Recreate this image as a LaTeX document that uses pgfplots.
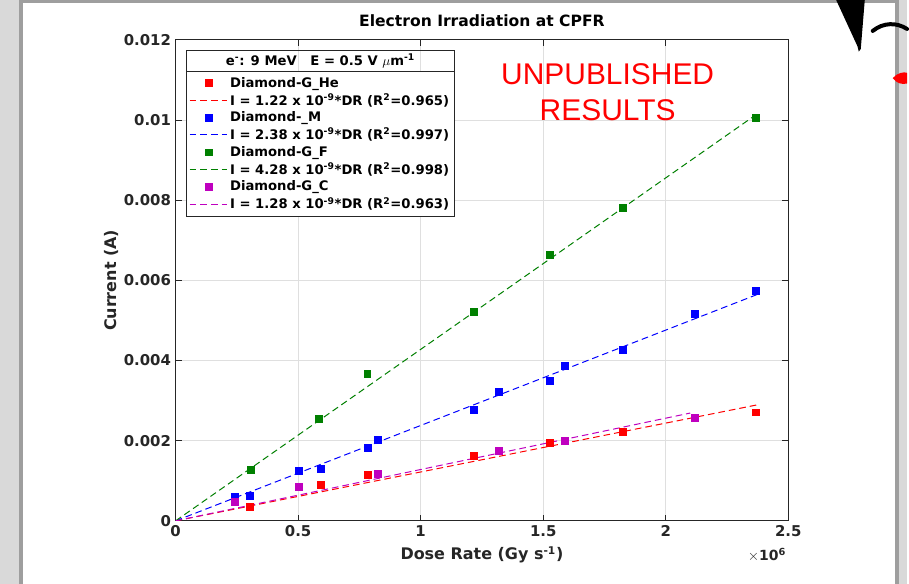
\documentclass[border=0pt]{standalone}
\usepackage{pgfplots}
\pgfplotsset{compat=1.18}
\usepackage{fontspec}
\setmainfont{DejaVu Sans}
\newfontfamily\redfont{Liberation Sans}
\usetikzlibrary{calc}
\definecolor{axgray}{HTML}{262626}
\definecolor{gridgray}{HTML}{DFDFDF}
\definecolor{mgreen}{HTML}{008000}
\definecolor{mmag}{HTML}{BF00BF}
\definecolor{framelight}{HTML}{D9D9D9}
\definecolor{framedark}{HTML}{9E9E9E}

\pgfplotstableread{
x y
0.303 0.00035
0.593 0.00090
0.785 0.00115
1.217 0.00162
1.526 0.00194
1.826 0.00223
2.366 0.00271
}\He
\pgfplotstableread{
x y
0.240 0.00059
0.303 0.00063
0.502 0.00125
0.593 0.00130
0.785 0.00183
0.825 0.00202
1.217 0.00277
1.317 0.00321
1.526 0.00349
1.587 0.00387
1.826 0.00426
2.117 0.00516
2.366 0.00575
}\M
\pgfplotstableread{
x y
0.305 0.00127
0.586 0.00254
0.782 0.00366
1.217 0.00522
1.526 0.00663
1.824 0.00782
2.366 0.01006
}\F
\pgfplotstableread{
x y
0.240 0.00047
0.502 0.00085
0.825 0.00118
1.317 0.00174
1.587 0.00199
2.117 0.00257
}\C

\begin{document}
\begin{tikzpicture}
% window frame
\fill[framelight] (0,0) rectangle (681.75pt,438.75pt);
\fill[framedark] (14.25pt,0) rectangle (675.75pt,438.75pt);
\fill[white] (17.25pt,0) rectangle (672.75pt,436.5pt);

\begin{axis}[
  at={(132pt,47.25pt)}, anchor=south west,
  scale only axis, width=460.5pt, height=361.5pt,
  xmin=0, xmax=2.5, ymin=0, ymax=0.012,
  xtick={0,0.5,1,1.5,2,2.5}, xticklabels={0,0.5,1,1.5,2,2.5},
  ytick={0,0.002,0.004,0.006,0.008,0.01,0.012},
  yticklabels={0,0.002,0.004,0.006,0.008,0.01,0.012},
  scaled x ticks=false, scaled y ticks=false,
  grid=major, major grid style={gridgray, line width=0.75pt},
  axis line style={axgray, line width=0.75pt},
  tick style={axgray, line width=0.75pt}, tick align=inside, major tick length=4.5pt,
  ticklabel style={font=\bfseries\fontsize{11.2}{13}\selectfont, text=axgray},
  title={Electron Irradiation at CPFR},
  title style={at={(axis description cs:0.5,1)}, anchor=base, yshift=4.1pt, font=\bfseries\fontsize{11.7}{13}\selectfont, text=black},
  xlabel={Dose Rate (Gy s\textsuperscript{-1})},
  ylabel={Current (A)},
  xlabel style={at={(axis description cs:0.5,0)}, anchor=center, yshift=-25.5pt, font=\bfseries\fontsize{12}{13}\selectfont, text=axgray},
  ylabel style={at={(axis description cs:-0.104,0.5)}, anchor=center, rotate=0, font=\bfseries\fontsize{12}{13}\selectfont, text=axgray},
  legend cell align=left,
  legend image code/.code={\draw[mark repeat=2,mark phase=2,#1] plot coordinates {(0pt,0pt)(14pt,0pt)(28pt,0pt)};},
  legend style={name=leg, at={(0.0174,0.9342)}, anchor=north west, draw=none, fill=white,
     font=\bfseries\fontsize{9.9}{11}\selectfont, text=black, row sep=-0.66pt, inner sep=2pt},
]
\addplot[only marks, mark=square*, mark size=2.6pt, red] table {\He};
\addlegendentry{Diamond-G\_He}
\addplot[red, dash pattern=on 5pt off 3pt, line width=0.75pt] coordinates {(0,0) (2.37,0.00289)};
\addlegendentry{I = 1.22 x 10\textsuperscript{-9}*DR (R\textsuperscript{2}=0.965)}
\addplot[only marks, mark=square*, mark size=2.6pt, blue] table {\M};
\addlegendentry{Diamond-\_M}
\addplot[blue, dash pattern=on 5pt off 3pt, line width=0.75pt] coordinates {(0,0) (2.37,0.00564)};
\addlegendentry{I = 2.38 x 10\textsuperscript{-9}*DR (R\textsuperscript{2}=0.997)}
\addplot[only marks, mark=square*, mark size=2.6pt, mgreen] table {\F};
\addlegendentry{Diamond-G\_F}
\addplot[mgreen, dash pattern=on 5pt off 3pt, line width=0.75pt] coordinates {(0,0) (2.37,0.01014)};
\addlegendentry{I = 4.28 x 10\textsuperscript{-9}*DR (R\textsuperscript{2}=0.998)}
\addplot[only marks, mark=square*, mark size=2.6pt, mmag] table {\C};
\addlegendentry{Diamond-G\_C}
\addplot[mmag, dash pattern=on 5pt off 3pt, line width=0.75pt] coordinates {(0,0) (2.10,0.00269)};
\addlegendentry{I = 1.28 x 10\textsuperscript{-9}*DR (R\textsuperscript{2}=0.963)}

\node[text=red, font=\redfont\fontsize{22.5}{27}\selectfont, align=center] at (axis cs:1.763,0.01069) {UNPUBLISHED\\RESULTS};
\end{axis}

% x10^6 multiplier
\node[anchor=base east, font=\bfseries\fontsize{10.5}{12}\selectfont, text=axgray, inner sep=0pt]
  at ($(current axis.south east)+(-1.5pt,-30pt)$) {$\times$10\textsuperscript{6}};

% legend border and title box
\draw[axgray, line width=0.75pt] (leg.south west) rectangle (leg.north east);
\draw[axgray, line width=0.75pt] (leg.north west) -- ++(0,15.8pt) -| (leg.north east);
\node[font=\bfseries\fontsize{9.9}{11}\selectfont, text=black] at ($(leg.north west)!0.5!(leg.north east)+(0,7.9pt)$)
  {e\textsuperscript{-}: 9 MeV\ \ \ E = 0.5 V $\mu$m\textsuperscript{-1}};

% decorations at top right
\fill[black] (628.5pt,438.75pt) -- (650pt,438.75pt) -- (647pt,402pt) -- (645.5pt,400pt) -- (644.5pt,404pt) -- cycle;
\draw[black, line width=3pt, line cap=round] (656pt,415.5pt) .. controls (664pt,422pt) and (674pt,422pt) .. (681.75pt,417pt);
\fill[red] (671pt,380pt) .. controls (674pt,384pt) and (680pt,385pt) .. (681.75pt,384pt) -- (681.75pt,376pt) .. controls (678pt,375pt) and (674pt,376pt) .. cycle;
\end{tikzpicture}
\end{document}
